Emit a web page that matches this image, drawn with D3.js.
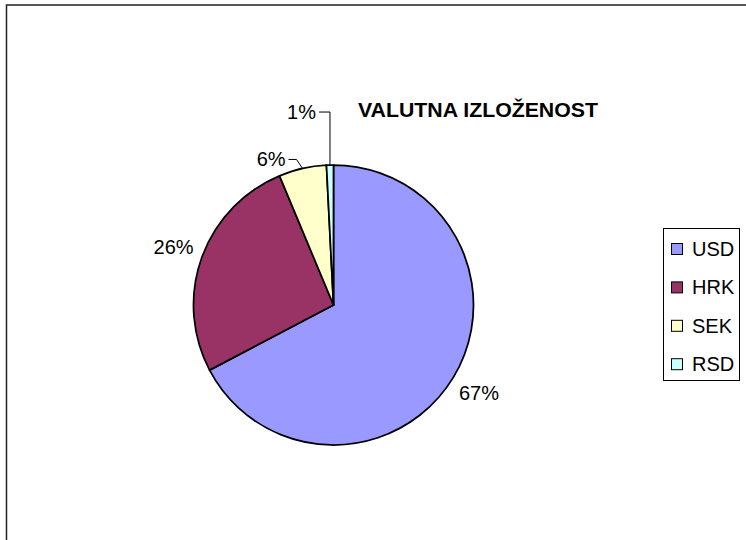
<!DOCTYPE html>
<html>
<head>
<meta charset="utf-8">
<script src="https://cdn.jsdelivr.net/npm/d3@7"></script>
<style>
  body { margin: 0; background: #fff; }
  svg { display: block; font-family: "Liberation Sans", Arial, sans-serif; }
</style>
</head>
<body>
<div id="chart"></div>
<script>
var categories = ["USD", "HRK", "SEK", "RSD"];
var values = [67.3, 26.4, 5.5, 0.8];
var colors = ["#9999FF", "#993366", "#FFFFCC", "#CCFFFF"];
var title = "VALUTNA IZLOŽENOST";

var width = 746;
var height = 540;
var cx = 333.5;
var cy = 305;
var radius = 140;
var labelRadius = 170;
// small slices get a leader line: how far up / left the label sits from the rim
var leaders = [null, null, {up: 9, slant: 6, run: 14}, {up: 53, slant: 0, run: 11}];

var svg = d3.select("#chart").append("svg")
    .attr("width", width)
    .attr("height", height);

// outer frame (runs off the right and bottom edges)
svg.append("rect")
    .attr("x", 6.5)
    .attr("y", 5)
    .attr("width", 800)
    .attr("height", 600)
    .attr("fill", "none")
    .attr("stroke", "#222")
    .attr("stroke-width", 1.5);

svg.append("text")
    .attr("x", 358)
    .attr("y", 117)
    .attr("font-size", 20)
    .attr("font-weight", "bold")
    .attr("textLength", 240)
    .attr("lengthAdjust", "spacingAndGlyphs")
    .text(title);

var total = d3.sum(values);
var pie = d3.pie().sort(null).value(function(d) { return d; });
var arcs = pie(values);
var arc = d3.arc().innerRadius(0).outerRadius(radius);

var g = svg.append("g").attr("transform", "translate(" + cx + "," + cy + ")");

g.selectAll("path.slice")
  .data(arcs)
  .enter()
  .append("path")
  .attr("class", "slice")
  .attr("d", arc)
  .attr("fill", function(d, i) { return colors[i]; })
  .attr("stroke", "#000")
  .attr("stroke-width", 1.75)
  .attr("stroke-linejoin", "round");

function pt(a, r) {
    return [Math.sin(a) * r, -Math.cos(a) * r];
}

arcs.forEach(function(d, i) {
    var mid = (d.startAngle + d.endAngle) / 2;
    var txt = Math.round(d.value / total * 100) + "%";
    var lead = leaders[i];
    if (!lead) {
        var p = pt(mid, labelRadius);
        g.append("text")
          .attr("x", p[0])
          .attr("y", p[1] + 7)
          .attr("text-anchor", "middle")
          .attr("font-size", 20)
          .attr("fill", "#000")
          .text(txt);
    } else {
        var p0 = pt(mid, radius);
        var ly = p0[1] - lead.up;
        var elbowX = p0[0] - lead.slant;
        var endX = p0[0] - lead.run;
        g.append("path")
          .attr("d", "M" + p0[0] + "," + p0[1] + "L" + elbowX + "," + ly + "L" + endX + "," + ly)
          .attr("fill", "none")
          .attr("stroke", "#000")
          .attr("stroke-width", 1);
        g.append("text")
          .attr("x", endX - 3)
          .attr("y", ly + 7)
          .attr("text-anchor", "end")
          .attr("font-size", 20)
          .attr("fill", "#000")
          .text(txt);
    }
});

// legend
var legendGroup = svg.append("g");
legendGroup.append("rect")
    .attr("x", 663.5)
    .attr("y", 228.5)
    .attr("width", 76)
    .attr("height", 152)
    .attr("fill", "#fff")
    .attr("stroke", "#000")
    .attr("stroke-width", 1);

var legend = legendGroup.selectAll(".legend")
  .data(categories)
  .enter()
  .append("g")
  .attr("class", "legend")
  .attr("transform", function(d, i) { return "translate(671," + (249 + i * 38.4) + ")"; });

legend.append("rect")
  .attr("x", 0.5)
  .attr("y", -5.5)
  .attr("width", 11)
  .attr("height", 11)
  .attr("fill", function(d, i) { return colors[i]; })
  .attr("stroke", "#000")
  .attr("stroke-width", 1);

legend.append("text")
  .attr("x", 21)
  .attr("y", 7)
  .attr("font-size", 20)
  .text(function(d) { return d; });
</script>
</body>
</html>
